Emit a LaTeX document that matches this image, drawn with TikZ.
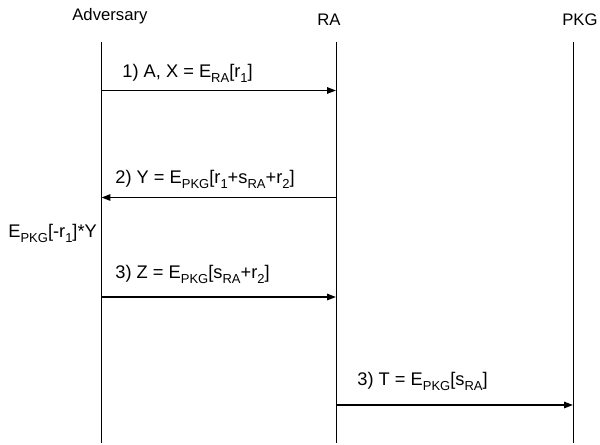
\documentclass[tikz,border=0pt]{standalone}
\usepackage{fontspec}
\setmainfont{Liberation Sans}
\usetikzlibrary{arrows.meta}
\newcommand{\lo}[1]{\raisebox{-2.9pt}{\fontsize{7.4}{8}\selectfont #1}}

\begin{document}
\begin{tikzpicture}[
    every node/.style={inner sep=0pt},
    party/.style={anchor=base west, font=\fontsize{9.5}{11}\selectfont},
    msg/.style={anchor=base west, font=\fontsize{10.4}{12}\selectfont},
    lifeline/.style={line width=0.55pt},
    arrow/.style={-{Triangle[length=5pt,width=3.6pt]}, line width=0.8pt}
  ]
    \useasboundingbox (0,0) rectangle (12,-8.88);

    % parties
    \node[party] (adv) at (1.44,-0.40) {Adversary};
    \node[party] (ra)  at (6.34,-0.50) {RA};
    \node[party] (pkg) at (11.24,-0.50) {PKG};

    % lifelines
    \coordinate (advtop) at (2.03,-0.84);
    \coordinate (advbot) at (2.03,-8.86);
    \coordinate (ratop)  at (6.72,-0.84);
    \coordinate (rabot)  at (6.72,-8.86);
    \coordinate (pkgtop) at (11.46,-0.84);
    \coordinate (pkgbot) at (11.46,-8.86);
    \draw[lifeline] (advtop) -- (advbot);
    \draw[lifeline] (ratop) -- (rabot);
    \draw[lifeline] (pkgtop) -- (pkgbot);

    % message end points
    \coordinate (adv1) at (2.03,-1.81);
    \coordinate (ra1)  at (6.72,-1.81);
    \coordinate (adv2) at (2.03,-3.95);
    \coordinate (ra2)  at (6.72,-3.95);
    \coordinate (adv3) at (2.03,-5.94);
    \coordinate (ra3)  at (6.72,-5.94);
    \coordinate (ra4)  at (6.72,-8.10);
    \coordinate (pkg4) at (11.46,-8.10);

    \draw[arrow] (adv1) -- (ra1);
    \draw[arrow] (ra2) -- (adv2);
    \draw[arrow] (adv3) -- (ra3);
    \draw[arrow] (ra4) -- (pkg4);

    % message labels
    \node[msg] (m1) at (2.44,-1.54) {1) A, X = E\lo{RA}[r\lo{1}]};
    \node[msg] (m2) at (2.30,-3.66) {2) Y = E\lo{PKG}[r\lo{1}+s\lo{RA}+r\lo{2}]};
    \node[msg] (calc) at (0.16,-4.74) {E\lo{PKG}[-r\lo{1}]*Y};
    \node[msg] (m3) at (2.30,-5.56) {3) Z = E\lo{PKG}[s\lo{RA}+r\lo{2}]};
    \node[msg] (m4) at (7.14,-7.70) {3) T = E\lo{PKG}[s\lo{RA}]};
  \end{tikzpicture}
\end{document}
